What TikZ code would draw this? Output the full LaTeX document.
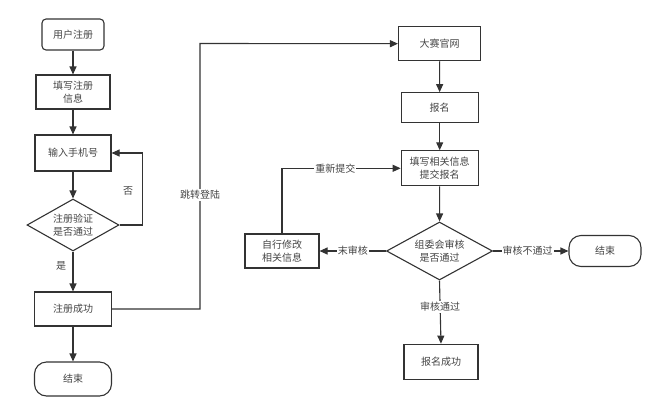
\documentclass[tikz,border=0pt]{standalone}
\usepackage{fontspec}
\newfontfamily\cjk{Noto Sans CJK SC}
\usetikzlibrary{shapes.geometric,arrows.meta}
\definecolor{ln}{HTML}{333333}
\definecolor{tx}{HTML}{444444}
\tikzset{
  box/.style={draw=ln,line width=1.1pt,rectangle,minimum width=#1,align=center,inner sep=1pt},
  rbox/.style={draw=ln,line width=1.1pt,rectangle,rounded corners=4pt,align=center},
  term/.style={draw=ln,line width=1.1pt,rectangle,rounded corners=12pt,align=center},
  dia/.style={draw=ln,line width=1.1pt,diamond,aspect=1.8,inner sep=0pt,align=center},
  arr/.style={draw=ln,line width=1.1pt,-{Triangle[length=8pt,width=7pt]}},
  lab/.style={fill=white,inner sep=1pt,text=tx}
}
\begin{document}
\begin{tikzpicture}[x=1pt,y=-1pt,font=\cjk\fontsize{10}{12.5}\selectfont,text=tx]
\useasboundingbox (0,0) rectangle (660,415);
% left column
\node[rbox,minimum width=62pt,minimum height=31pt] (a1) at (73,34.5) {用户注册};
\node[box=74pt,minimum height=34pt] (a2) at (73,92) {填写注册\\信息};
\node[box=76pt,minimum height=36pt] (a3) at (73,153) {输入手机号};
\node[dia,minimum width=92pt,minimum height=52pt] (a4) at (73,225) {注册验证\\是否通过};
\node[box=77pt,minimum height=34pt] (a5) at (73,309) {注册成功};
\node[term,minimum width=77pt,minimum height=34pt] (a6) at (73,379) {结束};
% right column
\node[box=82pt,minimum height=34pt] (b1) at (439.5,43.7) {大赛官网};
\node[box=77pt,minimum height=30pt] (b2) at (439.7,107.7) {报名};
\node[box=77pt,minimum height=35pt] (b3) at (439.7,168.3) {填写相关信息\\提交报名};
\node[dia,minimum width=106pt,minimum height=58pt] (b4) at (439.5,251) {组委会审核\\是否通过};
\node[box=74pt,minimum height=34pt] (b5) at (282,251) {自行修改\\相关信息};
\node[term,minimum width=72pt,minimum height=31pt] (b6) at (605,251) {结束};
\node[box=74pt,minimum height=35pt] (b7) at (441,361.7) {报名成功};
% coordinates
\coordinate (c1) at (142.7,225);
\coordinate (c2) at (142.7,153);
\coordinate (c3) at (200,309);
\coordinate (c4) at (200,43.5);
\coordinate (c5) at (282,168.3);
% connectors
\draw[arr] (a1) -- (a2);
\draw[arr] (a2) -- (a3);
\draw[arr] (a3) -- (a4);
\draw[arr] (a4.east) -- (c1) -- (c2) -- (a3.east);
\node[text=tx] (lno) at (128,191) {否};
\draw[arr] (a4) -- (a5);
\node[text=tx] (lyes) at (61,266) {是};
\draw[arr] (a5) -- (a6);
\draw[arr] (a5.east) -- (c3) -- (c4) -- (b1.west);
\node[lab] (ljump) at (200,195) {跳转登陆};
\draw[arr] (b1) -- (b2);
\draw[arr] (b2) -- (b3);
\draw[arr] (b3) -- (b4);
\draw[arr] (b4.west) -- node[lab] (lw) {末审核} (b5.east);
\draw[arr] (b4.east) -- node[lab,pos=0.46] (le) {审核不通过} (b6.west);
\draw[arr] (b4.south) -- node[lab,pos=0.42] (ls) {审核通过} (b7.north);
\draw[arr] (b5.north) -- (c5) -- node[lab,pos=0.45] (lr) {重新提交} (b3.west);
\end{tikzpicture}
\end{document}
